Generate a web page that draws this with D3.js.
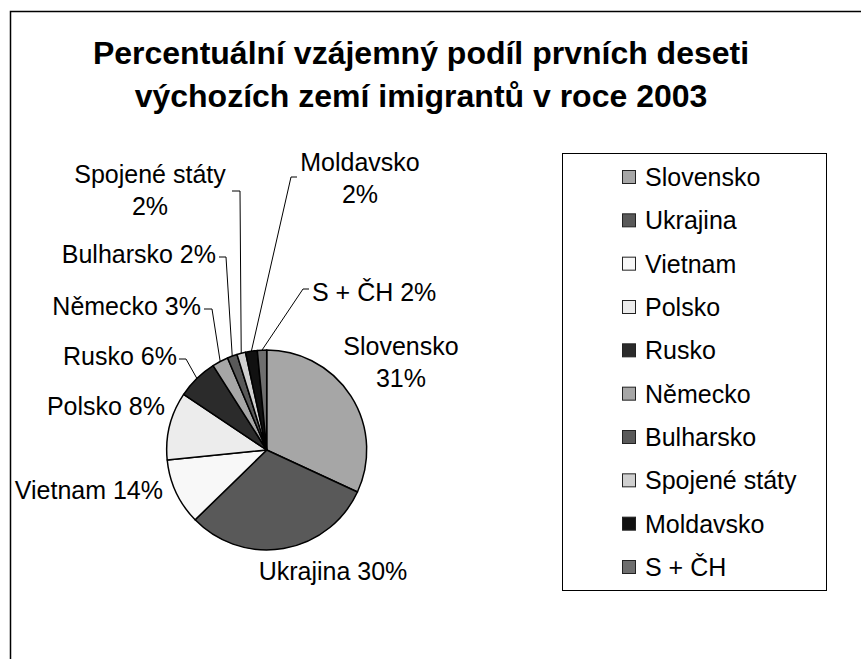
<!DOCTYPE html>
<html>
<head>
<meta charset="utf-8">
<script src="https://cdn.jsdelivr.net/npm/d3@7"></script>
<style>
  body { margin: 0; background: #fff; }
  svg { display: block; font-family: "Liberation Sans", Arial, sans-serif; }
</style>
</head>
<body>
<div id="graph"></div>
<script>
// data (slice shares in %, clockwise from 12 o'clock)
let countries = ['Slovensko', 'Ukrajina', 'Vietnam', 'Polsko', 'Rusko', 'Německo', 'Bulharsko', 'Spojené státy', 'Moldavsko', 'S + ČH'];
let shares = [31.9, 30.8, 10.7, 11.0, 6.6, 2.6, 1.6, 1.4, 1.9, 1.5];
let pctLabels = ['31%', '30%', '14%', '8%', '6%', '3%', '2%', '2%', '2%', '2%'];
let greys = ['#a6a6a6', '#595959', '#f8f8f8', '#ececec', '#2b2b2b', '#a6a6a6', '#595959', '#d0d0d0', '#111111', '#6e6e6e'];

let width = 861;
let height = 659;
let cx = 266.7, cy = 450, r = 100;

// label layout: [x, baseline, anchor, two lines?], tick = leader start (text side) and bend
let labelLayout = [
    {x: 401, y: 355, anchor: 'middle', split: true},
    {x: 333, y: 580, anchor: 'middle'},
    {x: 163, y: 499, anchor: 'end'},
    {x: 165, y: 415, anchor: 'end'},
    {x: 177, y: 365, anchor: 'end', tick: [[179, 359], [186, 359]]},
    {x: 201, y: 315, anchor: 'end', tick: [[204, 309], [212, 309]]},
    {x: 216, y: 263, anchor: 'end', tick: [[219, 257], [226, 257]]},
    {x: 150, y: 183, anchor: 'middle', split: true, tick: [[232, 191], [240, 191]]},
    {x: 360, y: 171, anchor: 'middle', split: true, tick: [[297, 177], [291, 177]]},
    {x: 312, y: 301, anchor: 'start', tick: [[309, 289], [303, 289]]}
];

let svg = d3.select('#graph')
    .append('svg')
        .attr('width', width)
        .attr('height', height);

// outer chart frame (cropped on the right and bottom)
svg.append('rect')
    .attr('x', 10.5).attr('y', 11.5)
    .attr('width', 900).attr('height', 700)
    .attr('fill', 'none')
    .attr('stroke', '#000')
    .attr('stroke-width', 1.5);

// title
let title = svg.append('text')
    .attr('text-anchor', 'middle')
    .attr('font-size', 32)
    .attr('font-weight', 'bold')
    .attr('fill', '#000');
title.append('tspan').attr('x', 421).attr('y', 64).text('Percentuální vzájemný podíl prvních deseti');
title.append('tspan').attr('x', 421).attr('y', 107).text('výchozích zemí imigrantů v roce 2003');

let color = d3.scaleOrdinal().domain(countries).range(greys);

let pie = d3.pie().sort(null).value((d) => { return d.share; });
let arc = d3.arc().innerRadius(0).outerRadius(r);

let data = countries.map((c, i) => { return {name: c, share: shares[i], pct: pctLabels[i], lay: labelLayout[i]}; });
let arcs = pie(data);

let g = svg.append('g').attr('transform', 'translate(' + cx + ',' + cy + ')');

g.selectAll('.slice')
        .data(arcs)
    .enter().append('path')
        .attr('class', 'slice')
        .attr('d', arc)
        .attr('fill', (d) => { return color(d.data.name); })
        .attr('stroke', '#000')
        .attr('stroke-width', 1.5)
        .attr('stroke-linejoin', 'round');

// leader lines from label to the middle of the slice edge
arcs.forEach((d) => {
    let t = d.data.lay.tick;
    if (!t)
        return;
    let a = (d.startAngle + d.endAngle) / 2;
    let ex = cx + r * Math.sin(a);
    let ey = cy - r * Math.cos(a);
    svg.append('polyline')
        .attr('points', [t[0], t[1], [ex, ey]].map((p) => { return p.join(','); }).join(' '))
        .attr('fill', 'none')
        .attr('stroke', '#000')
        .attr('stroke-width', 1);
});

// data labels
arcs.forEach((d) => {
    let lay = d.data.lay;
    let txt = svg.append('text')
        .attr('text-anchor', lay.anchor)
        .attr('font-size', 25)
        .attr('fill', '#000');
    if (lay.split) {
        txt.append('tspan').attr('x', lay.x).attr('y', lay.y).text(d.data.name);
        txt.append('tspan').attr('x', lay.x).attr('y', lay.y + 32).text(d.data.pct);
    } else {
        txt.attr('x', lay.x).attr('y', lay.y).text(d.data.name + ' ' + d.data.pct);
    }
});

// legend
let legend = svg.append('g');
legend.append('rect')
    .attr('x', 562.5).attr('y', 153.5)
    .attr('width', 264).attr('height', 437)
    .attr('fill', '#fff')
    .attr('stroke', '#000')
    .attr('stroke-width', 1);

let ly = d3.scalePoint().domain(countries).range([177, 567]);

let items = legend.selectAll('.item')
        .data(countries)
    .enter().append('g')
        .attr('class', 'item')
        .attr('transform', (d) => { return 'translate(622,' + ly(d) + ')'; });

items.append('rect')
    .attr('x', 0.5).attr('y', -6.5)
    .attr('width', 13).attr('height', 13)
    .attr('fill', (d) => { return color(d); })
    .attr('stroke', '#222')
    .attr('stroke-width', 1);

items.append('text')
    .attr('x', 23)
    .attr('y', 9)
    .attr('font-size', 25)
    .attr('fill', '#000')
    .text((d) => { return d; });
</script>
</body>
</html>
